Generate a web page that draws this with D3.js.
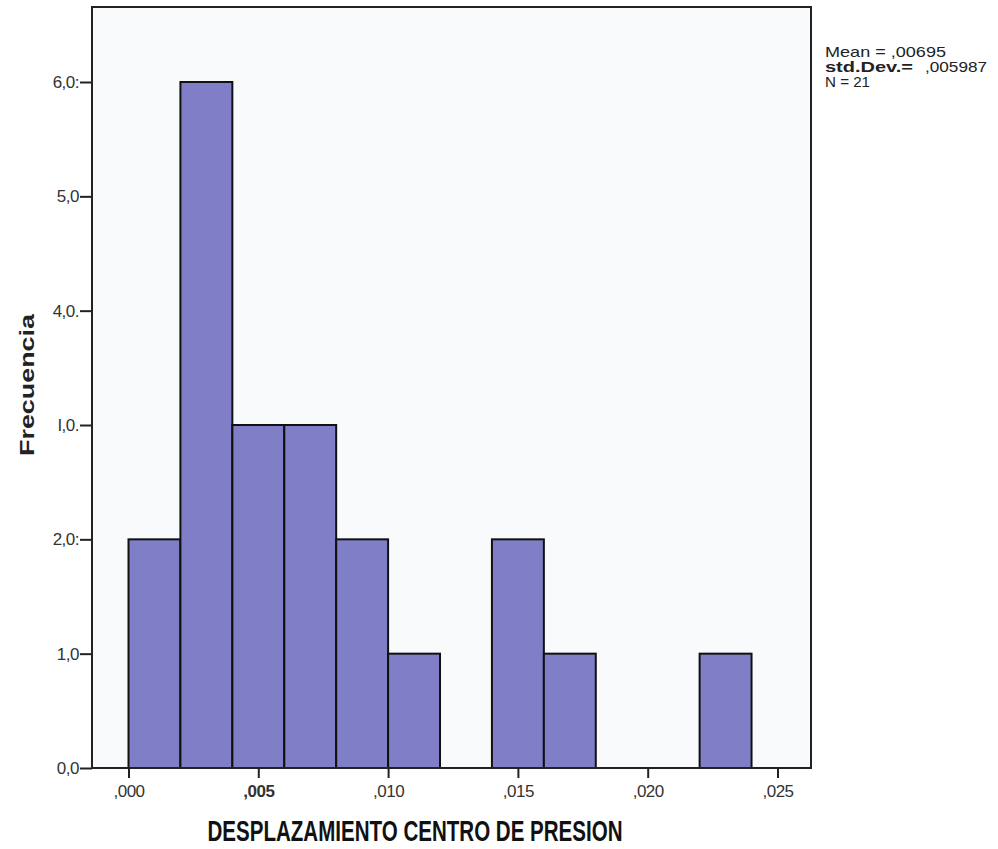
<!DOCTYPE html>
<html><head><meta charset="utf-8">
<script src="https://cdn.jsdelivr.net/npm/d3@7"></script>
<style>body{margin:0;background:#fff;}svg{display:block;}</style>
</head><body>
<svg id="c" width="998" height="849"></svg>
<script>
const binStarts = [0,0.002,0.004,0.006,0.008,0.010,0.012,0.014,0.016,0.018,0.020,0.022];
const binWidth = 0.002;
const counts = [2,6,3,3,2,1,0,2,1,0,0,1];
const yTickValues = [0,1,2,3,4,5,6];
const yTickLabels = ["0,0","1,0","2,0:","I,0.","4,0.","5,0","6,0:"];
const xTickValues = [0,0.005,0.010,0.015,0.020,0.025];
const xTickLabels = [",000",",005",",010",",015",",020",",025"];
const statsTexts = [
  {t:"Mean = ,00695", bold:false, line:0, dx:0, w:121},
  {t:"std.Dev.=", bold:true, line:1, dx:0, w:88},
  {t:",005987", bold:false, line:1, dx:100, w:62},
  {t:"N = 21", bold:false, line:2, dx:0, w:45}
];
const xTitle = "DESPLAZAMIENTO CENTRO DE PRESION";
const yTitle = "Frecuencia";

const svg = d3.select("#c");
const frame = {x0:92, y0:7, x1:811, y1:768};
const x = d3.scaleLinear().domain([0,0.025]).range([128.5,777.5]);
const y = d3.scaleLinear().domain([0,6]).range([768,82]);

svg.append("rect").attr("x",frame.x0).attr("y",frame.y0)
  .attr("width",frame.x1-frame.x0).attr("height",frame.y1-frame.y0)
  .attr("fill","#f9fafc");

svg.append("g").selectAll("rect").data(counts.map((c,i)=>({s:binStarts[i],c}))).join("rect")
  .filter(d=>d.c>0)
  .attr("x",d=>x(d.s)).attr("width",d=>x(d.s+binWidth)-x(d.s))
  .attr("y",d=>y(d.c)).attr("height",d=>y(0)-y(d.c))
  .attr("fill","#7f7ec6").attr("stroke","#111").attr("stroke-width",2);

svg.append("rect").attr("x",frame.x0).attr("y",frame.y0)
  .attr("width",frame.x1-frame.x0).attr("height",frame.y1-frame.y0)
  .attr("fill","none").attr("stroke","#222").attr("stroke-width",2);

// y axis
const yAxis = d3.axisLeft(y).tickValues(yTickValues).tickSize(12).tickPadding(1)
  .tickFormat((d,i)=>yTickLabels[i]);
const gy = svg.append("g").attr("transform",`translate(${frame.x0},0)`).call(yAxis);
gy.select(".domain").remove();
gy.selectAll(".tick line").attr("stroke","#222").attr("stroke-width",2);
gy.selectAll(".tick text").attr("font-family","Liberation Sans, Arial, sans-serif")
  .attr("font-size",17).attr("fill","#333").attr("letter-spacing",-0.5);

// x axis
const xAxis = d3.axisBottom(x).tickValues(xTickValues).tickSize(10).tickPadding(7)
  .tickFormat((d,i)=>xTickLabels[i]);
const gx = svg.append("g").attr("transform",`translate(0,${frame.y1})`).call(xAxis);
gx.select(".domain").remove();
gx.selectAll(".tick line").attr("stroke","#222").attr("stroke-width",2);
gx.selectAll(".tick text").attr("font-family","Liberation Sans, Arial, sans-serif")
  .attr("font-size",17).attr("fill","#333").attr("letter-spacing",-0.5)
  .attr("font-weight",(d,i)=>i===1?"bold":"normal");

// titles
svg.append("text").attr("x",415).attr("y",841).attr("text-anchor","middle")
  .attr("font-family","Liberation Sans Narrow, Arial Narrow, Liberation Sans, sans-serif")
  .attr("font-weight","bold").attr("font-size",29).attr("fill","#111")
  .attr("textLength",415).attr("lengthAdjust","spacingAndGlyphs").text(xTitle);

svg.append("text").attr("transform","translate(34,385) rotate(-90)").attr("text-anchor","middle")
  .attr("font-family","Liberation Sans, Arial, sans-serif").attr("font-weight","bold")
  .attr("font-size",21).attr("fill","#222").attr("textLength",142)
  .attr("lengthAdjust","spacingAndGlyphs").text(yTitle);

// stats
const st = svg.append("g").attr("font-family","Liberation Sans, Arial, sans-serif")
  .attr("font-size",14.5).attr("fill","#222");
statsTexts.forEach(s=>{
  st.append("text").attr("x",825+s.dx).attr("y",57+s.line*15)
    .attr("font-weight",s.bold?"bold":"normal")
    .attr("textLength",s.w).attr("lengthAdjust","spacingAndGlyphs").text(s.t);
});
</script>
</body></html>
